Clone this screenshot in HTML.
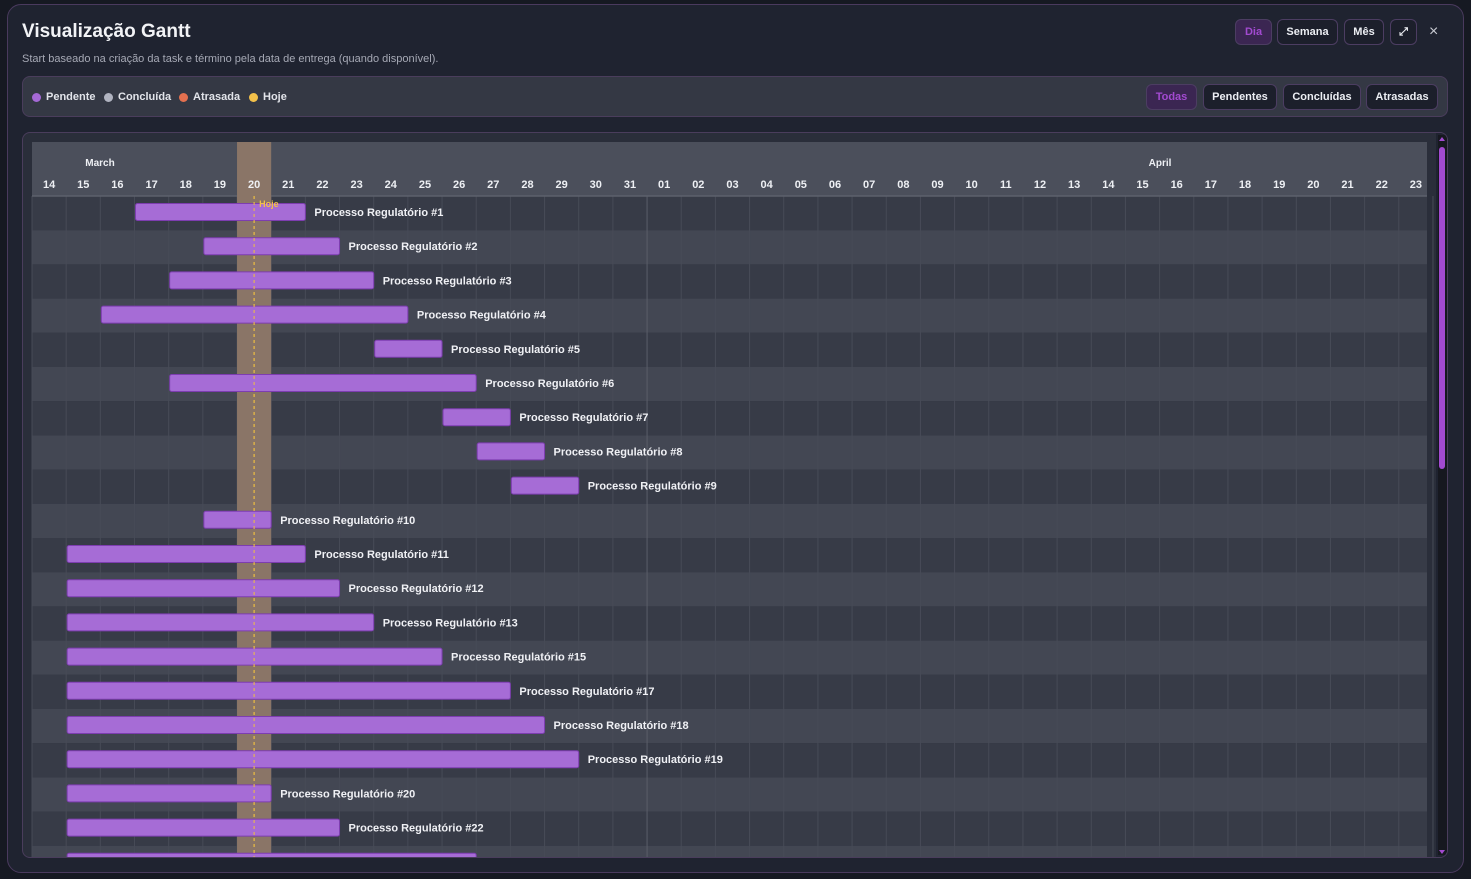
<!DOCTYPE html><html><head><meta charset="utf-8"><style>
*{box-sizing:border-box;margin:0;padding:0}
body{width:1471px;height:879px;background:#161922;font-family:"Liberation Sans",sans-serif;position:relative;overflow:hidden;color:#e8e9ee}
.modal{position:absolute;left:7px;top:4px;width:1457px;height:869px;background:#1f2330;border:1px solid #4a3a5e;border-radius:14px}
.abs{position:absolute}
h1{position:absolute;left:14px;top:16px;font-size:19px;font-weight:bold;color:#f2f3f6}
.sub{position:absolute;left:14px;top:48px;font-size:11px;color:#a6a9b5}
.btn{position:absolute;border:1px solid #4c3d62;border-radius:6px;background:#1c1f2b;color:#eceef3;font-size:11px;font-weight:bold;display:flex;align-items:center;justify-content:center}
.btn.on{background:#3b2652;color:#a24ad0}
.leg{position:absolute;left:14px;top:71px;width:1426px;height:41px;background:#343844;border:1px solid #4a3d5c;border-radius:8px}
.li{position:absolute;top:14px;font-size:11px;font-weight:bold;color:#e2e4ea;display:flex;align-items:center}
.li i{display:inline-block;width:9px;height:9px;border-radius:50%;margin-right:5px}
.gc{position:absolute;left:14px;top:127px;width:1426px;height:726px;background:#2a2e3a;border:1px solid #4a3d5c;border-radius:8px;overflow:hidden}
</style></head><body>
<div class="modal">
<h1>Visualização Gantt</h1>
<div class="sub">Start baseado na criação da task e término pela data de entrega (quando disponível).</div>
<div class="btn on" style="left:1227px;top:14px;width:37px;height:26px">Dia</div>
<div class="btn" style="left:1269px;top:14px;width:61px;height:26px">Semana</div>
<div class="btn" style="left:1336px;top:14px;width:40px;height:26px">Mês</div>
<div class="btn" style="left:1382px;top:14px;width:27px;height:26px">⤢</div>
<div class="abs" style="left:1421px;top:18px;font-size:16px;color:#c8cad2">×</div>
<div class="leg">
<div class="li" style="left:9px"><i style="background:#a569d6"></i>Pendente</div>
<div class="li" style="left:81px"><i style="background:#b0b3c0"></i>Concluída</div>
<div class="li" style="left:156px"><i style="background:#e4704f"></i>Atrasada</div>
<div class="li" style="left:226px"><i style="background:#f2c04a"></i>Hoje</div>
<div class="btn on" style="left:1123px;top:7px;width:51px;height:26px">Todas</div>
<div class="btn" style="left:1180px;top:7px;width:74px;height:26px">Pendentes</div>
<div class="btn" style="left:1260px;top:7px;width:78px;height:26px">Concluídas</div>
<div class="btn" style="left:1343px;top:7px;width:72px;height:26px">Atrasadas</div>
</div>
<div class="gc"><svg id="g" width="1426" height="726" style="position:absolute;left:0;top:0"></svg></div>
</div>
<script>
var s='',ox=9,oy=9,cw=34.17,rh=34.2,hy=54,W=1395;
var days=[];for(var d=14;d<=31;d++)days.push(d);for(var d=1;d<=23;d++)days.push(d<10?'0'+d:''+d);
var tasks=[[1,3,8],[2,5,9],[3,4,10],[4,2,11],[5,10,12],[6,4,13],[7,12,14],[8,13,15],[9,14,16],[10,5,7],[11,1,8],[12,1,9],[13,1,10],[15,1,12],[17,1,14],[18,1,15],[19,1,16],[20,1,7],[22,1,9],[23,1,13]];
s+='<rect x="'+ox+'" y="'+oy+'" width="'+W+'" height="'+hy+'" fill="#4b4f5b"/>';
for(var i=0;i<21;i++){var y=oy+hy+i*rh;s+='<rect x="'+ox+'" y="'+y+'" width="'+W+'" height="'+rh+'" fill="'+(i%2?'#434753':'#373b47')+'"/>';}
for(var i=0;i<=41;i++){var x=ox+i*cw;s+='<line x1="'+x+'" y1="'+(oy+hy)+'" x2="'+x+'" y2="726" stroke="'+(i==18?'#5a5e69':'#474b57')+'" stroke-width="1"/>';}
s+='<line x1="'+ox+'" y1="'+(oy+hy)+'" x2="'+(ox+W)+'" y2="'+(oy+hy)+'" stroke="#5d616c" stroke-width="1.5"/>';
s+='<rect x="'+(ox+6*cw)+'" y="'+oy+'" width="'+cw+'" height="720" fill="#8a7567"/>';
s+='<line x1="'+(ox+6.5*cw)+'" y1="'+(oy+hy)+'" x2="'+(ox+6.5*cw)+'" y2="726" stroke="#f0c040" stroke-width="1" stroke-dasharray="3,3"/>';
for(var i=0;i<41;i++)s+='<text x="'+(ox+(i+.5)*cw)+'" y="55" text-anchor="middle" font-size="11" font-weight="bold" fill="#eef0f4">'+days[i]+'</text>';
s+='<text x="77" y="33" text-anchor="middle" font-size="10" font-weight="bold" fill="#eef0f4">March</text>';
s+='<text x="1137" y="33" text-anchor="middle" font-size="10" font-weight="bold" fill="#eef0f4">April</text>';
tasks.forEach(function(t,i){var y=oy+hy+i*rh+7.5,x1=ox+t[1]*cw+1,x2=ox+t[2]*cw;
s+='<rect x="'+x1+'" y="'+y+'" width="'+(x2-x1)+'" height="17" rx="2" fill="#a66cd6" stroke="#7d3db0" stroke-width="1"/>';
s+='<text x="'+(x2+9)+'" y="'+(y+12.5)+'" font-size="11" font-weight="bold" fill="#f0f1f5">Processo Regulatório #'+t[0]+'</text>';});
s+='<line x1="'+(ox+6.5*cw)+'" y1="'+(oy+hy)+'" x2="'+(ox+6.5*cw)+'" y2="726" stroke="#f0c040" stroke-width="1" stroke-dasharray="3,3"/>';
s+='<text x="'+(ox+6.5*cw+5)+'" y="'+(oy+hy+11)+'" font-size="9" font-weight="bold" fill="#f2c04a">Hoje</text>';
s+='<rect x="1413" y="0" width="13" height="726" fill="#1f2330"/>';
s+='<rect x="1415" y="2" width="10" height="720" fill="#16181f"/>';
s+='<rect x="1416" y="14" width="6" height="322" rx="3" fill="#a24ad0"/>';
s+='<path d="M1416 8 L1419 4 L1422 8Z" fill="#a24ad0"/><path d="M1416 717 L1419 721 L1422 717Z" fill="#a24ad0"/>';
document.getElementById('g').innerHTML=s;
</script>
</body></html>
